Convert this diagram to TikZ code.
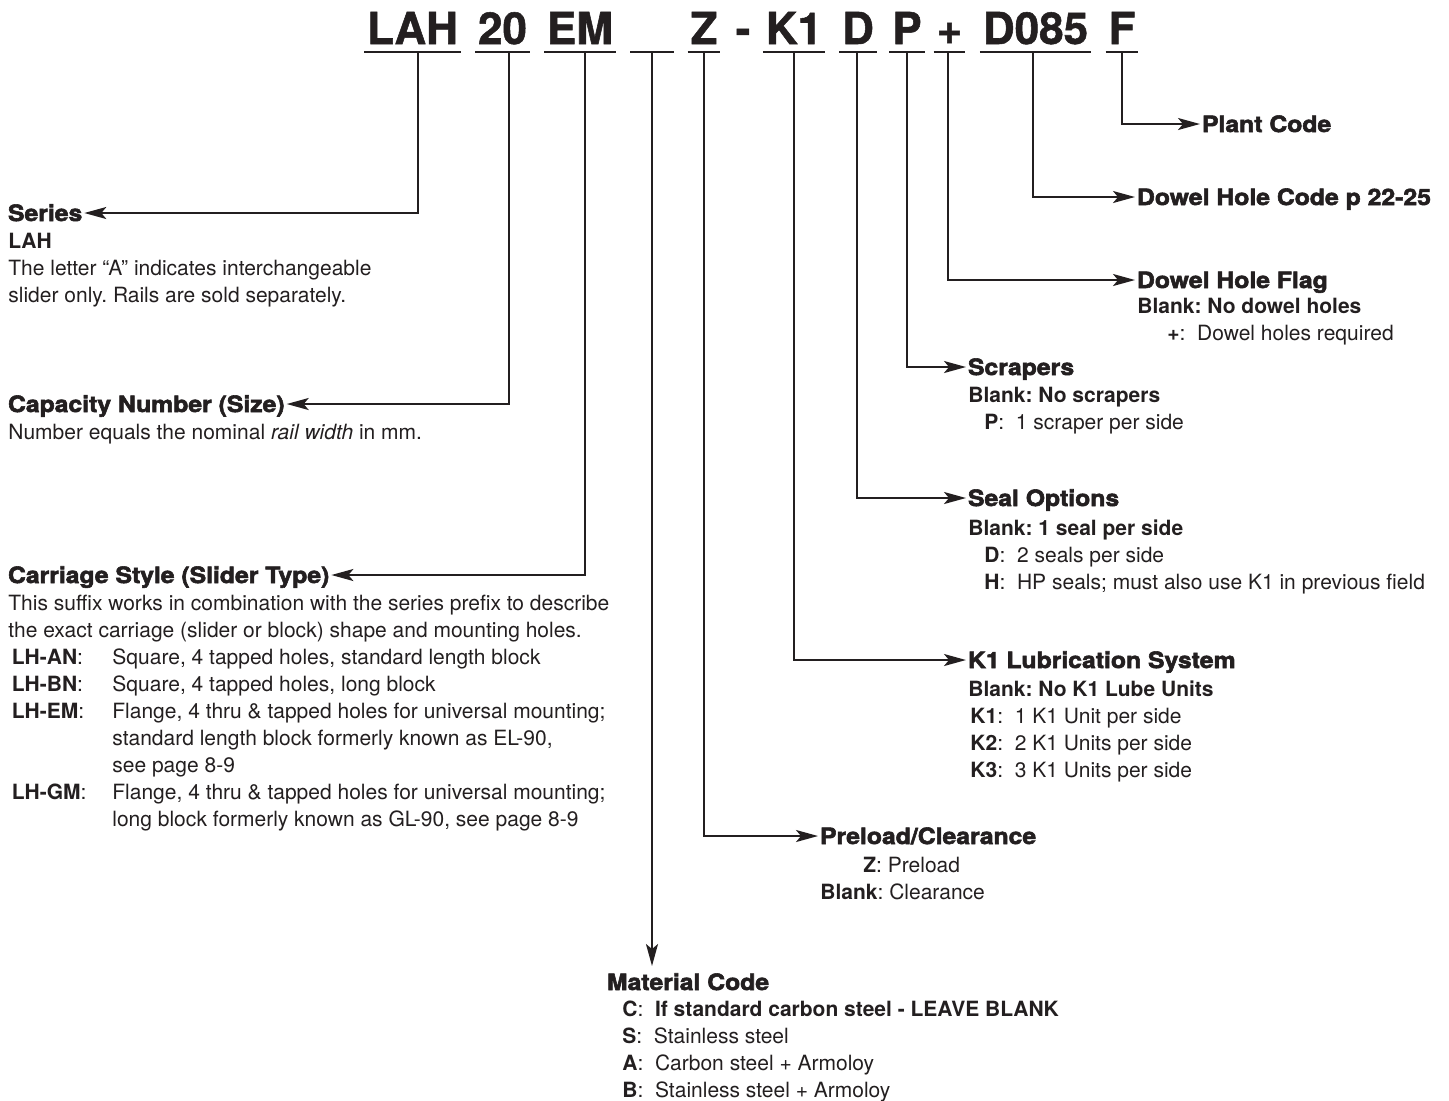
\documentclass[tikz,border=0pt]{standalone}
\usepackage{fontspec}
\setmainfont{TeX Gyre Heros}
\newfontfamily\headfont{texgyreheros-bold.otf}[FakeStretch=1.1,FakeBold=2.5]
\newfontfamily\codefont{texgyreheros-bold.otf}[FakeBold=1.2]
\usetikzlibrary{arrows.meta}
\definecolor{ink}{HTML}{231F20}
\frenchspacing
\newcommand{\lbl}[1]{\makebox[52pt][l]{\,\textbf{#1}:}}
\tikzset{
  code/.style={font=\codefont\fontsize{22}{26}\selectfont, anchor=base,
    inner xsep=1.5pt, inner ysep=0pt, text depth=4pt, outer sep=0pt},
  uline/.style={line width=1.3pt},
  head/.style={font=\headfont\fontsize{11.25}{13.5}\selectfont, anchor=west,
    inner sep=0pt, outer sep=1pt, text height=8pt, text depth=0pt},
  body/.style={font=\fontsize{10.5}{13.5}\selectfont, align=left,
    inner sep=0pt, anchor=north west},
  link/.style={line width=1pt, -{Stealth[length=11pt,width=6pt,inset=2.5pt]}},
}
\begin{document}
\begin{tikzpicture}[x=0.5pt,y=-0.5pt,color=ink]
  \useasboundingbox (0,0) rectangle (1449,1100);
  % part number
  \node[code] (lah) at (412.5,44) {LAH};
  \node[code] (twenty) at (502.5,44) {20};
  \node[code] (em) at (580,44) {EM};
  \node[code, minimum width=22pt] (blank) at (652,44) {};
  \node[code] (zee) at (704,44) {Z};
  \node[code] (dash) at (743,44) {-};
  \node[code] (kone) at (794,44) {K1};
  \node[code] (dee) at (858,44) {D};
  \node[code] (pee) at (907,44) {P};
  \node[code] (plus) at (949.5,44) {+};
  \node[code] (dowel) at (1035.5,44) {D085};
  \node[code] (eff) at (1122,44) {F};
  \foreach \n in {lah,twenty,em,blank,zee,kone,dee,pee,plus,dowel,eff}
    \draw[uline] (\n.south west) -- (\n.south east);

  % headings
  \node[head] (series) at (6,213) {Series};
  \node[head] (capacity) at (6,404) {Capacity Number (Size)};
  \node[head] (carriage) at (6,575) {Carriage Style (Slider Type)};
  \node[head] (plant) at (1200,124) {Plant Code};
  \node[head] (holecode) at (1135,197) {Dowel Hole Code p 22-25};
  \node[head] (flag) at (1135,280) {Dowel Hole Flag};
  \node[head] (scrapers) at (966,367) {Scrapers};
  \node[head] (seal) at (966,498) {Seal Options};
  \node[head] (lube) at (966,660) {K1 Lubrication System};
  \node[head] (preload) at (818,836) {Preload/Clearance};
  \node[head] (material) at (605,982) {Material Code};

  % descriptions
  \node[body] (seriestxt) at (8,233) {\textbf{LAH}\\
    The letter ``A'' indicates interchangeable\\
    slider only. Rails are sold separately.};
  \node[body] (capacitytxt) at (8,424) {Number equals the nominal \textit{rail width} in mm.};
  \node[body] (carriagetxt) at (8,595) {This suffix works in combination with the series prefix to describe\\
    the exact carriage (slider or block) shape and mounting holes.\\
    \lbl{LH-AN}Square, 4 tapped holes, standard length block\\
    \lbl{LH-BN}Square, 4 tapped holes, long block\\
    \lbl{LH-EM}Flange, 4 thru \& tapped holes for universal mounting;\\
    \hspace*{52pt}standard length block formerly known as EL-90,\\
    \hspace*{52pt}see page 8-9\\
    \lbl{LH-GM}Flange, 4 thru \& tapped holes for universal mounting;\\
    \hspace*{52pt}long block formerly known as GL-90, see page 8-9};
  \node[body] (flagtxt) at (1137,298) {\textbf{Blank: No dowel holes}\\
    \hspace*{15pt}\textbf{+}:~~Dowel holes required};
  \node[body] (scraperstxt) at (968,387) {\textbf{Blank: No scrapers}\\
    \hspace*{8pt}\textbf{P}:~~1 scraper per side};
  \node[body] (sealtxt) at (968,519) {\textbf{Blank: 1 seal per side}\\
    \hspace*{8pt}\textbf{D}:~~2 seals per side\\
    \hspace*{8pt}\textbf{H}:~~HP seals; must also use K1 in previous field};
  \node[body] (lubetxt) at (968,680) {\textbf{Blank: No K1 Lube Units}\\
    \hspace*{1pt}\textbf{K1}:~~1 K1 Unit per side\\
    \hspace*{1pt}\textbf{K2}:~~2 K1 Units per side\\
    \hspace*{1pt}\textbf{K3}:~~3 K1 Units per side};
  \node[body] (preloadtxt) at (820,857) {\hspace*{21.5pt}\textbf{Z}: Preload\\
    \textbf{Blank}: Clearance};
  \node[body] (materialtxt) at (607,1001) {\hspace*{7.5pt}\textbf{C}:~~\textbf{If standard carbon steel - LEAVE BLANK}\\
    \hspace*{7.5pt}\textbf{S}:~~Stainless steel\\
    \hspace*{7.5pt}\textbf{A}:~~Carbon steel + Armoloy\\
    \hspace*{7.5pt}\textbf{B}:~~Stainless steel + Armoloy};

  % connectors
  \draw[link] ([xshift=2.75pt]lah.south) |- (series.east);
  \draw[link] ([xshift=3.25pt]twenty.south) |- (capacity.east);
  \draw[link] ([xshift=2.5pt]em.south) |- (carriage.east);
  \draw[link, shorten >=3pt] (blank.south) -- (blank.south |- material.north);
  \draw[link] (zee.south) |- (preload.west);
  \draw[link] (kone.south) |- (lube.west);
  \draw[link] ([xshift=-0.5pt]dee.south) |- (seal.west);
  \draw[link] (pee.south) |- (scrapers.west);
  \draw[link] ([xshift=-0.75pt]plus.south) |- (flag.west);
  \draw[link] ([xshift=-1.25pt]dowel.south) |- (holecode.west);
  \draw[link] (eff.south) |- (plant.west);
\end{tikzpicture}
\end{document}
